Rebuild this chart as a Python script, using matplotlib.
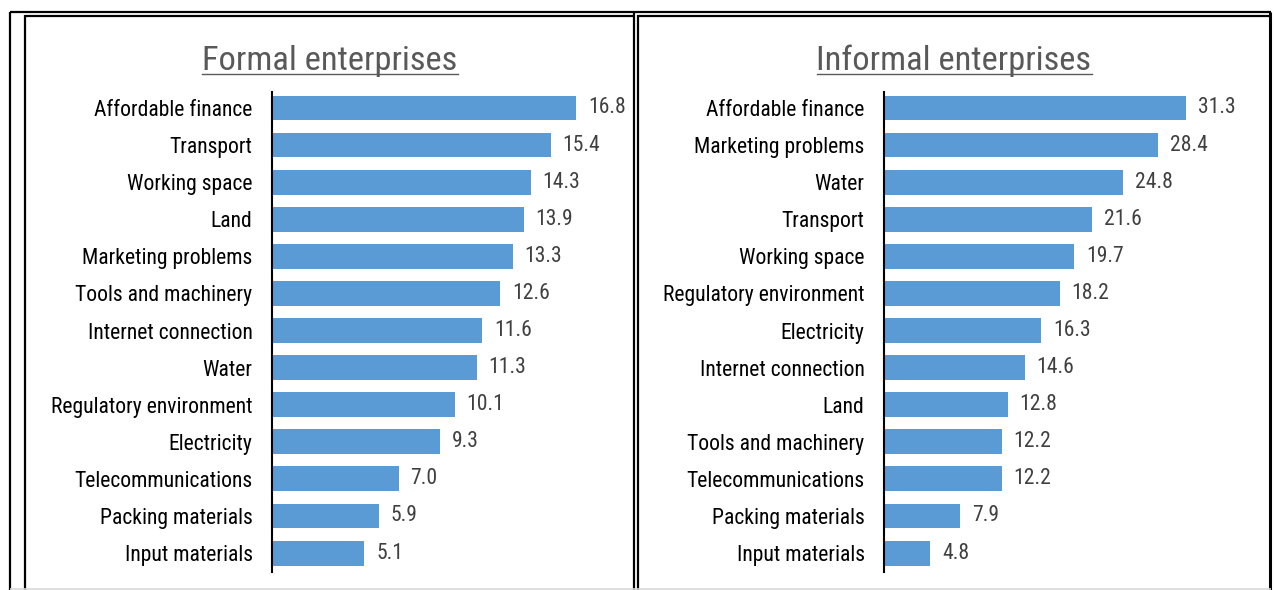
import matplotlib
matplotlib.use("Agg")
import matplotlib.pyplot as plt
from matplotlib.lines import Line2D
from matplotlib import font_manager

# Data
formal_labels = ["Affordable finance", "Transport", "Working space", "Land",
                 "Marketing problems", "Tools and machinery", "Internet connection",
                 "Water", "Regulatory environment", "Electricity",
                 "Telecommunications", "Packing materials", "Input materials"]
formal_values = [16.8, 15.4, 14.3, 13.9, 13.3, 12.6, 11.6, 11.3, 10.1, 9.3, 7.0, 5.9, 5.1]

informal_labels = ["Affordable finance", "Marketing problems", "Water", "Transport",
                   "Working space", "Regulatory environment", "Electricity",
                   "Internet connection", "Land", "Tools and machinery",
                   "Telecommunications", "Packing materials", "Input materials"]
informal_values = [31.3, 28.4, 24.8, 21.6, 19.7, 18.2, 16.3, 14.6, 12.8, 12.2, 12.2, 7.9, 4.8]

panel_titles = ["Formal enterprises", "Informal enterprises"]

names = {f.name for f in font_manager.fontManager.ttflist}
PREF = ["Arial Narrow", "Liberation Sans Narrow", "Nimbus Sans Narrow",
        "Roboto Condensed", "Archivo Narrow", "PT Sans Narrow",
        "Liberation Sans", "DejaVu Sans"]
FAM = [f for f in PREF if f in names] or ["DejaVu Sans"]
plt.rcParams["font.family"] = FAM

W, H = 1276, 590
fig = plt.figure(figsize=(W / 100, H / 100), dpi=100)
fig.patch.set_facecolor("white")

BAR = "#5B9BD5"
LBL = 15.6


def fx(px):
    return px / W


def fy(py):
    return 1 - py / H


def panel(axleft, px_per_unit, xmax, labels, values):
    width = px_per_unit * xmax
    ax = fig.add_axes([fx(axleft), fy(572), width / W, (572 - 92) / H])
    y = list(range(len(values)))
    ax.barh(y, values, height=0.67, color=BAR)
    ax.set_xlim(0, xmax)
    ax.set_ylim(12.51, -0.43)
    ax.set_yticks(y)
    ax.set_yticklabels(labels, fontsize=LBL, color="black")
    ax.tick_params(axis="y", length=0, pad=14)
    ax.set_xticks([])
    for s in ["top", "right", "bottom"]:
        ax.spines[s].set_visible(False)
    ax.spines["left"].set_linewidth(1.5)
    ax.spines["left"].set_color("black")
    for yi, v in zip(y, values):
        ax.annotate(f"{v:.1f}", (v, yi), xytext=(8.5, 0), textcoords="offset points",
                    va="center", ha="left", fontsize=LBL, color="#404040")
    ax.patch.set_alpha(0)
    return ax


panel(272, 18.1, 19.5, formal_labels, formal_values)
panel(884, 9.65, 38.5, informal_labels, informal_values)

# Panel titles with underline
titles = []
for cx, t in zip([330, 954], panel_titles):
    titles.append(fig.text(fx(cx), fy(70), t, ha="center", va="baseline",
                           fontsize=24.8, color="#595959"))
fig.canvas.draw()
r = fig.canvas.get_renderer()
for t in titles:
    bb = t.get_window_extent(r)
    fig.add_artist(Line2D([bb.x0 / W, bb.x1 / W], [fy(74), fy(74)],
                          transform=fig.transFigure, color="#595959", lw=1.0))


# Frames
def hline(x0, x1, y, color="black", lw=1.6):
    fig.add_artist(Line2D([fx(x0), fx(x1)], [fy(y), fy(y)],
                          transform=fig.transFigure, color=color, lw=lw,
                          solid_capstyle="butt"))


def vline(x, y0, y1, color="black", lw=1.6):
    fig.add_artist(Line2D([fx(x), fx(x)], [fy(y0), fy(y1)],
                          transform=fig.transFigure, color=color, lw=lw,
                          solid_capstyle="butt"))


# outer frame
hline(9.5, 1271, 12)
vline(10, 11.5, 590)
# left panel box
hline(24.5, 635, 15.5)
vline(25, 15, 590)
vline(634, 12, 590)
# right panel box
hline(637, 1271, 15.5)
vline(637.5, 15, 590)
vline(1270, 11.5, 590, lw=2.2)
# bottom rule
hline(10, 1271, 588.5, color="#d9d9d9", lw=1.2)

fig.savefig("out.png", dpi=100, facecolor="white")
